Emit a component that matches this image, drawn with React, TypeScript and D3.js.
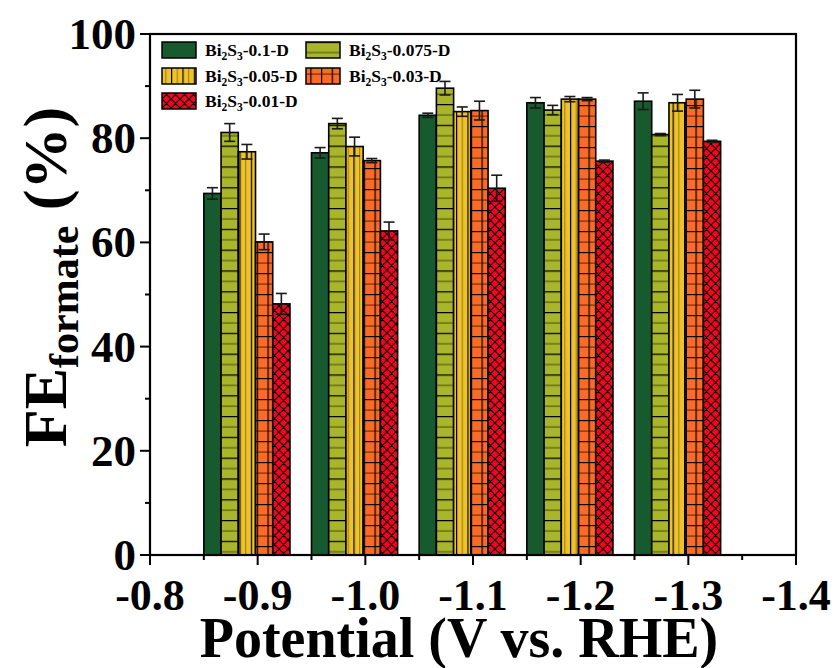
import * as d3 from 'd3';

// potentials (V vs. RHE)
const potentials = [-0.9, -1.0, -1.1, -1.2, -1.3];

// series labels (suffix after Bi2S3)
const seriesLabels = ['-0.1-D', '-0.075-D', '-0.05-D', '-0.03-D', '-0.01-D'];

// FE formate values (%)
const fe01 = [69.4, 77.2, 84.4, 86.8, 87.1];
const fe0075 = [81.1, 82.8, 89.6, 85.4, 80.7];
const fe005 = [77.4, 78.4, 85.1, 87.5, 86.8];
const fe003 = [60.1, 75.7, 85.3, 87.5, 87.5];
const fe001 = [48.2, 62.2, 70.4, 75.6, 79.4];

// error bars
const err01 = [1.1, 1.0, 0.4, 1.0, 1.6];
const err0075 = [1.7, 1.0, 1.3, 0.9, 0.2];
const err005 = [1.4, 1.8, 0.9, 0.5, 1.6];
const err003 = [1.5, 0.4, 1.8, 0.3, 1.7];
const err001 = [2.0, 1.7, 2.5, 0.2, 0.2];

const xTicks = [-0.8, -0.9, -1.0, -1.1, -1.2, -1.3, -1.4];
const yTicks = [0, 20, 40, 60, 80, 100];

const values = [fe01, fe0075, fe005, fe003, fe001];
const errors = [err01, err0075, err005, err003, err001];
const fills = ['#165a2d', 'url(#pOlive)', 'url(#pYellow)', 'url(#pOrange)', 'url(#pRed)'];

const FONT = '"Liberation Serif", "Times New Roman", serif';

const left = 150, right = 796, top = 34, bottom = 555;

const x = d3.scaleLinear().domain([-0.8, -1.4]).range([left, right]);
const y = d3.scaleLinear().domain([0, 100]).range([bottom, top]);

const barSpan = 0.016; // width of one bar in potential units
const groupOffset = 0.05; // group starts at p + 0.05

const BiLabel = ({ suffix, px, py }: { suffix: string; px: number; py: number }) => (
  <text x={px} y={py} fontFamily={FONT} fontWeight="bold" fontSize={17.5} fill="#000">
    Bi<tspan fontSize={11.5} dy={4}>2</tspan>
    <tspan dy={-4}>S</tspan>
    <tspan fontSize={11.5} dy={4}>3</tspan>
    <tspan dy={-4}>{suffix}</tspan>
  </text>
);

const App = () => {
  const minorX = d3.range(0, 6).map(i => -0.85 - i * 0.1);
  const minorY = [10, 30, 50, 70, 90];

  const legendPos = [
    [162, 50], [306, 50],
    [162, 76], [306, 76],
    [162, 101],
  ];

  return (
    <svg width={838} height={668} style={{ display: 'block', position: 'absolute', left: 0, top: 0 }}>
      <defs>
        <pattern id="pOlive" patternUnits="userSpaceOnUse" width={20} height={20.8}>
          <rect width={20} height={20.8} fill="#a9b52a" />
          <line x1={0} x2={20} y1={0.6} y2={0.6} stroke="#000" strokeWidth={1.3} />
          <line x1={0} x2={20} y1={11} y2={11} stroke="#5f6512" strokeWidth={1.3} />
        </pattern>
        <pattern id="pYellow" patternUnits="userSpaceOnUse" width={11.4} height={10}>
          <rect width={11.4} height={10} fill="#eec22a" />
          <line x1={0.6} x2={0.6} y1={0} y2={10} stroke="#000" strokeWidth={1.2} />
          <line x1={6.3} x2={6.3} y1={0} y2={10} stroke="#9a7a10" strokeWidth={1} />
        </pattern>
        <pattern id="pOrange" patternUnits="userSpaceOnUse" width={10.7} height={21}>
          <rect width={10.7} height={21} fill="#f96b26" />
          <line x1={0} x2={10.7} y1={0.6} y2={0.6} stroke="#000" strokeWidth={1.2} />
          <line x1={0} x2={10.7} y1={11.1} y2={11.1} stroke="#7a2e08" strokeWidth={1.2} />
          <line x1={0.6} x2={0.6} y1={0} y2={21} stroke="#000" strokeWidth={1.2} />
        </pattern>
        <pattern id="pRed" patternUnits="userSpaceOnUse" width={9} height={9}>
          <rect width={9} height={9} fill="#f5061e" />
          <path d="M0,0 L9,9 M9,0 L0,9 M-2,7 L2,11 M7,-2 L11,2 M-2,2 L2,-2 M7,11 L11,7" stroke="#000" strokeWidth={1.1} />
        </pattern>
      </defs>

      {/* bars */}
      {values.map((vals, si) => (
        <g key={si}>
          {vals.map((v, gi) => {
            const p = potentials[gi];
            const x0 = x(p + groupOffset - si * barSpan);
            const x1 = x(p + groupOffset - (si + 1) * barSpan);
            return (
              <rect key={gi} x={x0} y={y(v)} width={x1 - x0} height={y(0) - y(v)}
                fill={fills[si]} stroke="#000" strokeWidth={1.6} />
            );
          })}
        </g>
      ))}

      {/* error bars */}
      {values.map((vals, si) => (
        <g key={'e' + si} stroke="#1a1a1a" strokeWidth={1.6}>
          {vals.map((v, gi) => {
            const p = potentials[gi];
            const cx = (x(p + groupOffset - si * barSpan) + x(p + groupOffset - (si + 1) * barSpan)) / 2;
            const e = errors[si][gi];
            return (
              <g key={gi}>
                <line x1={cx} x2={cx} y1={y(v + e)} y2={y(v - e)} />
                <line x1={cx - 5.5} x2={cx + 5.5} y1={y(v + e)} y2={y(v + e)} />
                <line x1={cx - 5.5} x2={cx + 5.5} y1={y(v - e)} y2={y(v - e)} />
              </g>
            );
          })}
        </g>
      ))}

      {/* frame */}
      <rect x={left} y={top} width={right - left} height={bottom - top} fill="none" stroke="#000" strokeWidth={2.2} />

      {/* x ticks */}
      {xTicks.map(t => (
        <g key={t}>
          <line x1={x(t)} x2={x(t)} y1={bottom} y2={bottom + 10} stroke="#000" strokeWidth={2} />
          <text x={x(t)} y={610} textAnchor="middle" fontFamily={FONT} fontWeight="bold" fontSize={44}>
            {t.toFixed(1)}
          </text>
        </g>
      ))}
      {minorX.map(t => (
        <line key={t} x1={x(t)} x2={x(t)} y1={bottom} y2={bottom + 5} stroke="#000" strokeWidth={2} />
      ))}

      {/* y ticks */}
      {yTicks.map(t => (
        <g key={t}>
          <line x1={left - 10} x2={left} y1={y(t)} y2={y(t)} stroke="#000" strokeWidth={2} />
          <text x={136} y={y(t) + 15} textAnchor="end" fontFamily={FONT} fontWeight="bold" fontSize={45}>
            {t}
          </text>
        </g>
      ))}
      {minorY.map(t => (
        <line key={t} x1={left - 5} x2={left} y1={y(t)} y2={y(t)} stroke="#000" strokeWidth={2} />
      ))}

      {/* axis titles */}
      <text x={459} y={657} textAnchor="middle" fontFamily={FONT} fontWeight="bold" fontSize={56}>
        Potential (V vs. RHE)
      </text>
      <text transform="translate(66,277) rotate(-90)" textAnchor="middle" fontFamily={FONT} fontWeight="bold" fontSize={62}>
        FE<tspan fontSize={42} dy={12}>formate</tspan><tspan dy={-12}> (%)</tspan>
      </text>

      {/* legend */}
      {seriesLabels.map((s, i) => {
        const [lx, ly] = legendPos[i];
        return (
          <g key={s}>
            <rect x={lx} y={ly - 8} width={34} height={16} fill={fills[i]} stroke="#000" strokeWidth={1.5} />
            <BiLabel suffix={s} px={lx + 43} py={ly + 6} />
          </g>
        );
      })}
    </svg>
  );
};

export default App;
